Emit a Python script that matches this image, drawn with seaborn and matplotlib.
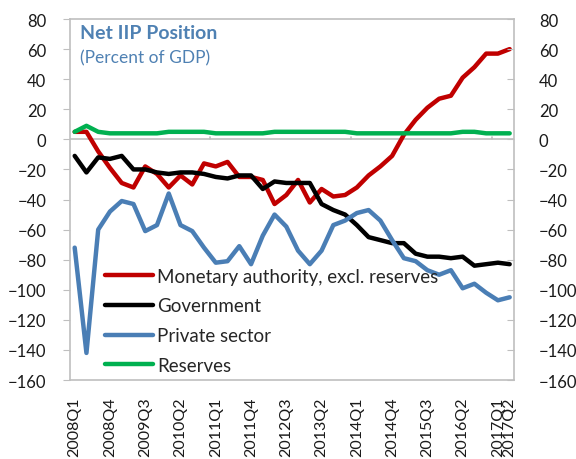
import numpy as np
import pandas as pd
import seaborn as sns
import matplotlib
matplotlib.use("Agg")
import matplotlib.pyplot as plt

# quarters 2008Q1 .. 2017Q2
quarters = [f"{y}Q{q}" for y in range(2008, 2018) for q in range(1, 5)][:38]

monetary = [5, 5, -8, -19, -29, -32, -18, -23, -32, -24, -30, -16, -18, -15, -25, -25,
            -27, -43, -37, -27, -42, -33, -38, -37, -32, -24, -18, -11, 3, 13,
            21, 27, 29, 41, 48, 57, 57, 60]
government = [-11, -22, -12, -13, -11, -20, -20, -22, -23, -22, -22, -23, -25, -26, -24, -24,
              -33, -28, -29, -29, -29, -43, -47, -50, -57, -65, -67, -69, -69, -76,
              -78, -78, -79, -78, -84, -83, -82, -83]
private = [-72, -142, -60, -48, -41, -43, -61, -57, -36, -57, -61, -72, -82, -81, -71, -83,
           -64, -50, -58, -74, -83, -74, -57, -54, -49, -47, -54, -67, -79, -81,
           -87, -90, -87, -99, -96, -102, -107, -105]
reserves = [5, 9, 5, 4, 4, 4, 4, 4, 5, 5, 5, 5, 4, 4, 4, 4, 4, 5, 5, 5, 5, 5, 5, 5,
            4, 4, 4, 4, 4, 4, 4, 4, 4, 5, 5, 4, 4, 4]

names = ["Monetary authority, excl. reserves", "Government", "Private sector", "Reserves"]
colors = ["#C00000", "#000000", "#4A7EB5", "#00B050"]
tick_idx = list(range(0, 37, 3)) + [37]

df = pd.DataFrame({"idx": np.arange(len(quarters)), names[0]: monetary, names[1]: government,
                   names[2]: private, names[3]: reserves})
long = df.melt(id_vars="idx", var_name="series", value_name="value")

sns.set_style("white")
plt.rcParams["font.family"] = ["Lato", "DejaVu Sans"]

fig = plt.figure(figsize=(5.76, 4.6), dpi=100)
ax = fig.add_axes([0.1215, 0.1717, 0.7705, 0.7848])

ax.axhline(0, color="#BFBFBF", lw=1.2, zorder=1)
for k in range(12, len(quarters), 12):
    ax.plot([k - 0.5, k - 0.5], [0, 1.8], color="#BFBFBF", lw=1.2, zorder=1)

sns.lineplot(data=long, x="idx", y="value", hue="series", hue_order=names,
             palette=colors, linewidth=3.2, ax=ax, zorder=3)

ax.set_xlim(-0.4, 37.35)
ax.set_ylim(-160, 80)
ax.set_yticks(range(-160, 81, 20))
ax.set_xticks(tick_idx)
ax.set_xticklabels([quarters[i] for i in tick_idx], rotation=90, fontsize=11.5, color="#1a1a1a")
ax.tick_params(axis="x", length=0, pad=12)
ax.tick_params(axis="y", direction="out", length=5, color="#BFBFBF", labelsize=12,
               labelcolor="#1a1a1a", pad=12, left=True)
ax.set_xlabel("")
ax.set_ylabel("")
for s in ax.spines.values():
    s.set_color("#BFBFBF")
    s.set_linewidth(1.2)

ax2 = ax.twinx()
ax2.set_ylim(-160, 80)
ax2.set_yticks(range(-160, 81, 20))
ax2.tick_params(axis="y", direction="in", length=5, color="#BFBFBF", labelsize=12,
                labelcolor="#1a1a1a", pad=18, right=True)
for s in ax2.spines.values():
    s.set_visible(False)

ax.legend(loc="lower left", bbox_to_anchor=(0.04, -0.03), frameon=False, fontsize=13.5,
          handlelength=2.6, handletextpad=0.2, labelspacing=0.68)

ax.text(0.022, 0.985, "Net IIP Position", transform=ax.transAxes, fontsize=14,
        fontweight="bold", color="#4F81B3", va="top", ha="left")
ax.text(0.022, 0.915, "(Percent of GDP)", transform=ax.transAxes, fontsize=12.5,
        color="#4F81B3", va="top", ha="left")

fig.savefig("out.png", dpi=100)
